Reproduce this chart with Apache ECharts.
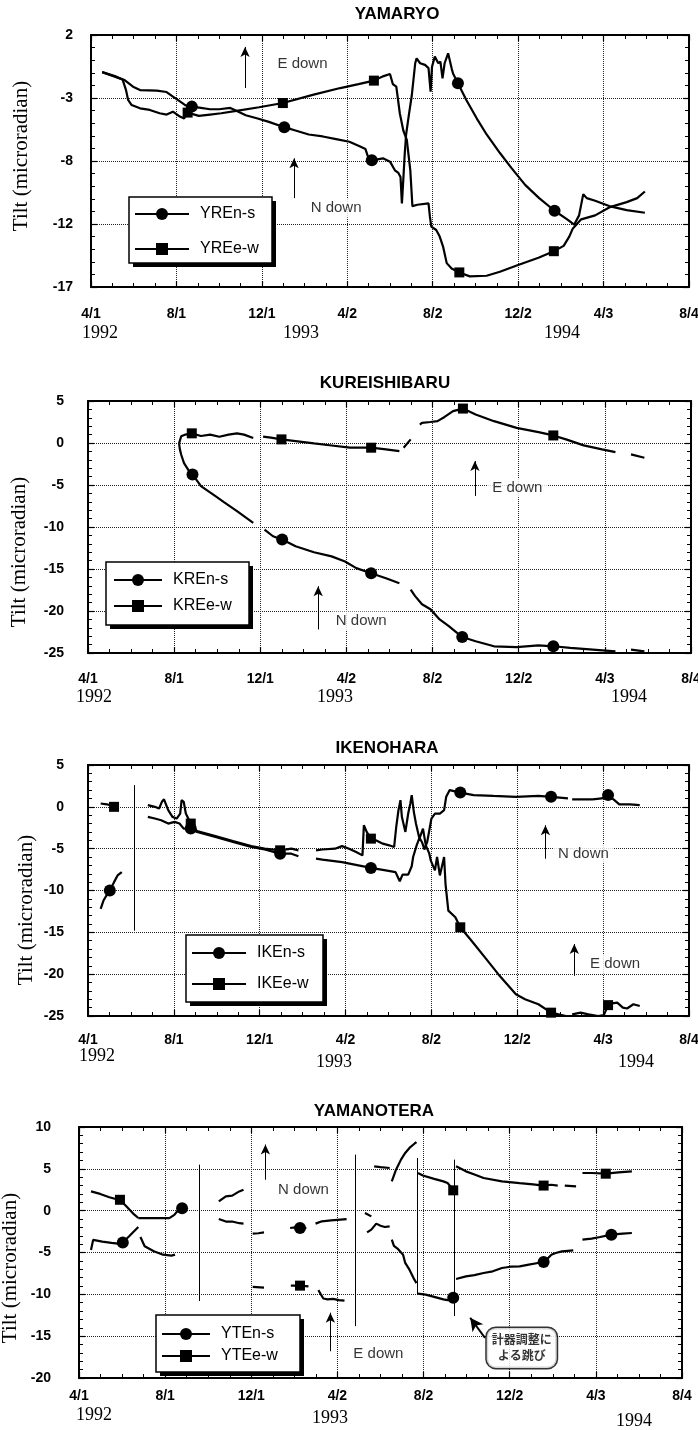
<!DOCTYPE html>
<html>
<head>
<meta charset="utf-8">
<title>Tilt records 1992-1994</title>
<script src="https://cdn.jsdelivr.net/npm/echarts@6/dist/echarts.min.js"></script>
<style>
  html, body { margin: 0; padding: 0; background: #fff; }
  #main { width: 698px; height: 1430px; }
</style>
</head>
<body>
<div id="main"></div>
<script>
// x is days since 4/1/1992, ticks every 122 days
const xTickLabels = ['4/1', '8/1', '12/1', '4/2', '8/2', '12/2', '4/3', '8/4'];
const yearLabels = ['1992', '1993', '1994'];
const yrTickLabels = ['-17', '-12', '-8', '-3', '2'];

// ---- YAMARYO ----
const yrNs = [[16,-0.8],[34,-1.14],[48,-1.4],[60,-1.9],[70,-2.15],[94,-2.2],[108,-2.3],[117,-2.65],[127,-3.0],[135,-3.3],[144,-3.4],[157,-3.5],[170,-3.6],[183,-3.6],[199,-3.5],[209,-3.75],[221,-4.05],[238,-4.3],[254,-4.55],[276,-4.95],[292,-5.2],[311,-5.5],[331,-5.65],[350,-5.85],[369,-6.05],[382,-6.35],[392,-6.6],[395,-7.1],[401,-7.45],[417,-7.3],[427,-7.55],[434,-8.2],[439,-8.4],[442,-8.7],[444,-10.7],[446,-8.9],[448,-7.0],[450,-5.5],[454,-4.0],[458,-2.6],[463,-0.13],[465,0.24],[470,-0.13],[477,-0.25],[482,-0.5],[485,-2.27],[487,-0.4],[491,0.37],[496,-0.13],[499,0],[502,-1.27],[505,-0.13],[510,0.62],[515,-0.5],[517,-0.9],[524,-1.64],[536,-2.9],[551,-4.3],[565,-5.5],[584,-6.9],[600,-8.0],[620,-9.3],[640,-10.3],[662,-11.25],[680,-11.9],[690,-12.3],[697,-11.6],[703,-10.0],[708,-10.3],[720,-10.5],[740,-10.9],[765,-11.2],[791,-11.4]];
const yrNsMarks = [144, 276, 401, 524, 662];
const yrEw = [[16,-0.8],[34,-1.1],[45,-1.35],[50,-2.15],[53,-2.9],[58,-3.28],[70,-3.53],[84,-3.65],[98,-3.9],[108,-4.0],[117,-3.78],[127,-4.15],[133,-4.3],[138,-3.85],[154,-4.1],[170,-4.0],[186,-3.9],[210,-3.7],[240,-3.45],[274,-3.13],[318,-2.5],[356,-2.0],[382,-1.7],[404,-1.44],[418,-1.1],[427,-0.94],[431,-1.7],[436,-1.9],[441,-3.9],[446,-5.2],[451,-5.9],[456,-8.2],[459,-10.9],[466,-10.8],[482,-10.7],[484,-11.7],[486,-12.45],[493,-12.7],[498,-13.2],[503,-14.0],[508,-15.2],[515,-15.6],[526,-15.9],[541,-16.2],[565,-16.15],[584,-15.85],[607,-15.4],[639,-14.8],[661,-14.3],[675,-13.9],[683,-13.2],[688,-12.6],[693,-12.3],[700,-11.9],[720,-11.6],[740,-11.0],[765,-10.6],[780,-10.3],[791,-9.8]];
const yrEwMarks = [138, 274, 404, 526, 661];
const yrArrows = [[220, -2.0, 1.1], [290, -10.3, -7.3]];
const yrNotes = [[302, -0.15, 'E down'], [350, -11.05, 'N down']];

// ---- KUREISHIBARU ----
const krNs = [[129,-0.05],[130,-0.7],[132,-1.4],[136,-2.4],[142,-3.2],[148,-3.74],[160,-5.13],[180,-6.3],[192,-7.0],[211,-8.1],[234,-9.5],[235,null],[250,-10.3],[262,-11.1],[275,-11.5],[294,-12.3],[320,-13.0],[345,-13.5],[364,-14.1],[380,-14.9],[401,-15.5],[422,-16.1],[441,-16.7],[442,null],[457,-17.45],[463,-18.2],[473,-19.2],[485,-19.8],[498,-21.0],[511,-21.8],[530,-23.1],[549,-23.6],[575,-24.2],[607,-24.3],[638,-24.1],[659,-24.2],[683,-24.4],[715,-24.6],[747,-24.8],[748,null],[769,-24.6],[788,-24.8]];
const krNsMarks = [148, 275, 401, 530, 659];
const krEw = [[129,-0.05],[132,0.8],[138,1.0],[147,1.15],[160,0.83],[173,1.0],[186,0.75],[199,1.0],[211,1.15],[221,1.0],[234,0.6],[235,null],[248,0.75],[259,0.63],[274,0.43],[294,0.23],[320,-0.05],[345,-0.3],[371,-0.56],[401,-0.56],[422,-0.76],[441,-0.96],[442,null],[447,-0.56],[457,0.43],[458,null],[470,2.2],[473,2.4],[485,2.5],[495,2.6],[505,3.1],[517,3.8],[531,4.1],[549,3.4],[575,2.6],[607,1.8],[638,1.3],[659,0.9],[677,0.43],[702,-0.28],[728,-0.76],[747,-1.08],[748,null],[769,-1.36],[788,-1.76]];
const krEwMarks = [147, 274, 401, 531, 659];
const krArrows = [[548, -6.3, -2.15], [326, -22.2, -17.05]];
const krNotes = [[608, -5.33, 'E down'], [387, -21.2, 'N down']];

// ---- IKENOHARA ----
const ikNs = [[18,-12.2],[22,-11.2],[27,-10.5],[31,-10.0],[37,-9.0],[42,-8.2],[48,-7.8],[49,null],[85,-1.2],[95,-1.4],[104,-1.6],[114,-2.0],[123,-1.8],[130,-2.0],[136,-2.6],[146,-2.6],[155,-3.0],[181,-3.6],[206,-4.2],[232,-4.8],[251,-5.1],[273,-5.6],[289,-5.6],[299,-5.9],[300,null],[324,-6.2],[333,-6.3],[361,-6.6],[402,-7.3],[423,-7.6],[437,-7.8],[443,-8.9],[447,-8.1],[455,-8.1],[460,-7.1],[462,-6.0],[467,-4.6],[471,-3.7],[475,-4.3],[478,-5.1],[482,-4.2],[485,-2.8],[488,-1.4],[493,-0.8],[500,-0.8],[506,-0.4],[509,1.2],[514,2.0],[529,1.7],[548,1.4],[576,1.3],[608,1.2],[640,1.3],[658,1.2],[682,1.0],[683,null],[688,0.9],[717,0.9],[730,1.0],[739,1.4],[748,0.8],[755,0.3],[770,0.3],[784,0.2]];
const ikNsMarks = [31, 146, 273, 402, 529, 658, 739];
const ikEw = [[18,0.4],[27,0.3],[37,0.0],[42,-0.1],[43,null],[85,0.2],[95,0.0],[101,-0.2],[105,0.6],[108,0.9],[114,-0.4],[120,-1.2],[126,-1.4],[131,-0.8],[133,0.8],[136,0.6],[139,-0.8],[146,-2.0],[155,-2.9],[181,-3.5],[206,-4.1],[232,-4.7],[251,-5.0],[273,-5.2],[289,-5.0],[299,-5.2],[300,null],[324,-5.2],[333,-5.1],[351,-5.0],[361,-4.7],[371,-5.0],[381,-5.4],[390,-5.8],[392,-2.2],[396,-3.0],[402,-3.8],[409,-4.0],[419,-4.4],[428,-4.6],[435,-4.8],[438,-2.4],[441,-0.5],[444,0.8],[446,-1.2],[451,-3.0],[455,-0.8],[458,0.4],[460,1.4],[463,-0.6],[466,-2.0],[471,-3.8],[476,-2.6],[480,-4.6],[485,-5.6],[487,-6.4],[493,-7.6],[496,-6.0],[500,-8.2],[506,-6.0],[508,-9.2],[512,-12.4],[522,-13.2],[529,-14.4],[545,-16.0],[564,-18.0],[583,-20.0],[608,-22.4],[621,-23.0],[640,-23.6],[658,-24.6],[679,-25.0],[682,null],[688,-24.8],[700,-24.6],[711,-24.8],[725,-25.0],[733,-24.9],[739,-23.7],[745,-23.5],[752,-23.4],[760,-24.0],[766,-24.1],[775,-23.6],[784,-23.8]];
const ikEwMarks = [37, 146, 273, 402, 529, 658, 739];
const ikSteps = [[66, 2.6, -14.8]];
const ikArrows = [[650, -6.2, -2.2], [691, -20.2, -16.4]];
const ikNotes = [[704, -5.6, 'N down'], [749, -18.8, 'E down']];

// ---- YAMANOTERA ----
const ytNs = [[17,-4.7],[20,-3.5],[33,-3.7],[46,-3.85],[55,-3.95],[62,-3.8],[71,-3.05],[78,-2.45],[84,-1.95],[85,null],[84,-0.88],[87,-0.9],[103,-0.9],[116,-0.9],[128,-0.9],[135,-0.5],[141,0.1],[146,0.3],[149,0.4],[150,null],[198,-1.0],[208,-1.3],[217,-1.3],[227,-1.5],[233,-1.55],[234,null],[246,-2.75],[254,-2.7],[262,-2.6],[263,null],[299,-2.07],[306,-2.0],[313,-2.07],[322,-2.07],[323,null],[335,-1.55],[344,-1.27],[357,-1.15],[379,-1.0],[380,null],[408,-2.6],[414,-2.27],[421,-1.55],[427,-1.8],[433,-1.95],[440,-1.87],[441,null],[443,-3.47],[446,-4.2],[452,-4.6],[459,-5.26],[462,-6.25],[468,-7.05],[475,-8.25],[478,-8.65],[479,null],[480,-9.92],[491,-10.04],[503,-10.3],[516,-10.6],[522,-10.7],[530,-10.4],[531,null],[534,-8.17],[548,-7.85],[560,-7.7],[573,-7.45],[586,-7.25],[599,-6.85],[611,-6.7],[624,-6.65],[637,-6.45],[650,-6.25],[658,-6.14],[662,-5.86],[669,-5.26],[675,-5.06],[684,-4.86],[700,-4.74],[701,null],[713,-3.47],[726,-3.35],[738,-3.15],[754,-2.87],[770,-2.75],[783,-2.67]];
const ytNsMarks = [62, 146, 313, 530, 658, 754];
const ytEw = [[17,2.3],[30,2.0],[43,1.6],[52,1.4],[58,1.3],[68,0.45],[78,-0.45],[84,-0.88],[85,null],[87,-3.15],[93,-4.26],[106,-4.86],[119,-5.26],[131,-5.38],[136,-5.26],[137,null],[198,1.1],[208,1.7],[217,1.8],[227,2.3],[233,2.5],[234,null],[246,-9.12],[262,-9.2],[263,null],[300,-8.96],[313,-8.96],[325,-9.04],[326,null],[339,-9.5],[346,-10.5],[352,-10.6],[360,-10.55],[368,-10.7],[376,-10.75],[377,null],[405,-0.28],[414,-0.68],[415,null],[418,5.3],[427,5.2],[440,5.1],[441,null],[443,3.5],[449,4.9],[456,6.1],[462,6.9],[468,7.5],[475,8.0],[478,8.2],[479,null],[480,4.5],[487,4.2],[503,3.8],[516,3.5],[522,3.3],[526,2.9],[530,2.43],[531,null],[534,5.3],[548,4.7],[561,4.3],[573,3.9],[599,3.5],[624,3.3],[643,3.15],[658,3.0],[669,3.1],[678,3.0],[679,null],[688,3.0],[704,2.9],[705,null],[713,4.5],[726,4.5],[746,4.42],[764,4.58],[783,4.7]];
const ytEwMarks = [58, 313, 530, 658, 746];
const ytSteps = [[171, 5.5, -10.8], [391, 6.7, -13.8], [479, 6.3, -10.0], [532, 6.1, -12.6]];
const ytArrows = [[264, 3.7, 7.9], [356, -16.8, -12.2]];
const ytNotes = [[318, 2.5, 'N down'], [424, -17.1, 'E down']];
const ytCallout = { at: [627, -16.4], from: [575, -15.2], to: [554, -12.8], text: '計器調整に\nよる跳び' };

// page layout, in pixels; box = legend frame [x, y, w, h]
const panels = [
  { title: 'YAMARYO', ns: ['YREn-s', yrNs, yrNsMarks], ew: ['YREe-w', yrEw, yrEwMarks],
    yMin: -17, yMax: 2, yStep: 4.75, yLabels: yrTickLabels, steps: [], arrows: yrArrows, notes: yrNotes,
    left: 91, right: 9, top: 35, height: 252, xMargin: 20, yMargin: 18,
    titlePos: [397, 14], namePos: [21, 156], yearPos: [[100, 333], [301, 333], [562, 333]],
    box: [129, 197, 143, 66], legend: { left: 134, top: 206, gap: 19, w: 54 } },
  { title: 'KUREISHIBARU', ns: ['KREn-s', krNs, krNsMarks], ew: ['KREe-w', krEw, krEwMarks],
    yMin: -25, yMax: 5, yStep: 5, steps: [], arrows: krArrows, notes: krNotes,
    left: 88, right: 7, top: 401, height: 252, xMargin: 19, yMargin: 24,
    titlePos: [385, 383], namePos: [19, 552], yearPos: [[94, 697], [335, 697], [629, 697]],
    box: [106, 562, 143, 63], legend: { left: 113, top: 572, gap: 10, w: 48 } },
  { title: 'IKENOHARA', ns: ['IKEn-s', ikNs, ikNsMarks], ew: ['IKEe-w', ikEw, ikEwMarks],
    yMin: -25, yMax: 5, yStep: 5, steps: ikSteps, arrows: ikArrows, notes: ikNotes,
    left: 88, right: 9, top: 765, height: 251, xMargin: 17, yMargin: 24,
    titlePos: [387, 748], namePos: [26, 910], yearPos: [[97, 1056], [334, 1062], [636, 1062]],
    box: [186, 935, 137, 67], legend: { left: 191, top: 945, gap: 15, w: 54 } },
  { title: 'YAMANOTERA', ns: ['YTEn-s', ytNs, ytNsMarks], ew: ['YTEe-w', ytEw, ytEwMarks],
    yMin: -20, yMax: 10, yStep: 5, steps: ytSteps, arrows: ytArrows, notes: ytNotes, callout: ytCallout,
    left: 79, right: 16, top: 1127, height: 251, xMargin: 11, yMargin: 28,
    titlePos: [374, 1111], namePos: [10, 1268], yearPos: [[94, 1415], [330, 1418], [634, 1421]],
    box: [156, 1315, 144, 57], legend: { left: 161, top: 1326, gap: 6, w: 48 } }
];

const sans = '"Liberation Sans", Arial, Helvetica, sans-serif';
const serif = '"Liberation Serif", "Times New Roman", serif';

const chart = echarts.init(document.getElementById('main'));
const option = {
  animation: false,
  backgroundColor: '#fff',
  textStyle: { fontFamily: sans, color: '#000' },
  grid: [], xAxis: [], yAxis: [], series: [], legend: [], graphic: []
};

function frameAxis(extra) {
  return Object.assign({
    type: 'value',
    axisLine: { show: true, onZero: false, lineStyle: { color: '#000', width: 2 } },
    axisTick: { show: true, inside: true, length: 6, lineStyle: { color: '#000', width: 1.2 } },
    splitLine: { show: false },
    axisLabel: { show: false }
  }, extra);
}

function lineSeries(p, i, [name, pts, marks], symbol, size) {
  const markSet = new Set(marks);
  return {
    type: 'line', name: name, xAxisIndex: 2 * i, yAxisIndex: 2 * i,
    data: pts.map(d => [d[0], d[1]]),
    symbol: symbol, showSymbol: true,
    symbolSize: v => (markSet.has(v[0]) ? size : 0),
    connectNulls: false, silent: true, z: 3,
    lineStyle: { color: '#000', width: 2.2 },
    itemStyle: { color: '#000' },
    emphasis: { disabled: true }
  };
}

panels.forEach((p, i) => {
  option.grid.push({ left: p.left, right: p.right, top: p.top, height: p.height, outerBoundsMode: 'none' });

  // bottom + top x axes
  option.xAxis.push(frameAxis({
    gridIndex: i, position: 'bottom', min: 0, max: 854, interval: 122,
    minorTick: { show: true, splitNumber: 4, length: 4, lineStyle: { color: '#000', width: 1 } },
    axisLabel: { show: true, margin: p.xMargin, color: '#000', fontFamily: sans, fontWeight: 'bold', fontSize: 14,
      formatter: v => xTickLabels[Math.round(v / 122)] },
    splitLine: { show: true, lineStyle: { type: 'dotted', color: '#222', width: 1 } }
  }));
  option.xAxis.push(frameAxis({
    gridIndex: i, position: 'top', min: 0, max: 854, interval: 122,
    minorTick: { show: true, splitNumber: 4, length: 4, lineStyle: { color: '#000', width: 1 } }
  }));

  // left + right y axes
  const yFmt = p.yLabels ? (v => p.yLabels[Math.round((v - p.yMin) / p.yStep)]) : (v => String(v));
  option.yAxis.push(frameAxis({
    gridIndex: i, position: 'left', min: p.yMin, max: p.yMax, interval: p.yStep,
    minorTick: { show: true, splitNumber: 5, length: 4, lineStyle: { color: '#000', width: 1 } },
    axisLabel: { show: true, margin: p.yMargin, color: '#000', fontFamily: sans, fontWeight: 'bold', fontSize: 14, formatter: yFmt },
    splitLine: { show: true, lineStyle: { type: 'dotted', color: '#222', width: 1 } }
  }));
  option.yAxis.push(frameAxis({
    gridIndex: i, position: 'right', min: p.yMin, max: p.yMax, interval: p.yStep,
    minorTick: { show: true, splitNumber: 5, length: 4, lineStyle: { color: '#000', width: 1 } }
  }));

  // the two components; annotation lines ride on the n-s series
  const ns = lineSeries(p, i, p.ns, 'circle', 12);
  const lines = [];
  p.steps.forEach(([x, y1, y2]) => lines.push([{ coord: [x, y1], symbol: 'none' }, { coord: [x, y2], symbol: 'none' }]));
  p.arrows.forEach(([x, y1, y2]) => lines.push([{ coord: [x, y1], symbol: 'none' }, { coord: [x, y2], symbol: 'arrow' }]));
  if (p.callout) {
    lines.push([{ coord: p.callout.from, symbol: 'none', lineStyle: { width: 2 } },
                { coord: p.callout.to, symbol: 'arrow', symbolSize: [10, 13] }]);
  }
  ns.markLine = {
    silent: true, animation: false, symbolSize: [7, 10], label: { show: false },
    lineStyle: { color: '#000', width: 1, type: 'solid' },
    emphasis: { disabled: true }, data: lines
  };
  option.series.push(ns);
  option.series.push(lineSeries(p, i, p.ew, 'rect', 10));

  // "E down" / "N down" notes
  option.series.push({
    type: 'scatter', xAxisIndex: 2 * i, yAxisIndex: 2 * i, symbolSize: 0, silent: true, z: 5,
    data: p.notes.map(([x, y, t]) => ({ value: [x, y], name: t })),
    label: { show: true, position: 'inside', formatter: '{b}', color: '#000', fontFamily: sans, fontSize: 15,
      backgroundColor: '#fff', padding: [2, 5] }
  });

  if (p.callout) {
    option.series.push({
      type: 'scatter', xAxisIndex: 2 * i, yAxisIndex: 2 * i, symbolSize: 0, silent: true, z: 6,
      data: [{ value: p.callout.at, name: p.callout.text }],
      label: { show: true, position: 'inside', formatter: '{b}', color: '#000',
        fontFamily: '"Noto Sans CJK JP", sans-serif', fontWeight: 'bold', fontSize: 12, lineHeight: 16, align: 'center',
        backgroundColor: '#fff', borderColor: '#000', borderWidth: 1.5, borderRadius: 9, padding: [4, 5] }
    });
  }

  // legend frame with a hard drop shadow, legend items on top
  const [bx, by, bw, bh] = p.box;
  option.graphic.push({ type: 'rect', x: bx + 4, y: by + 4, z: 10, silent: true,
    shape: { x: 0, y: 0, width: bw, height: bh }, style: { fill: '#000' } });
  option.graphic.push({ type: 'rect', x: bx, y: by, z: 11, silent: true,
    shape: { x: 0, y: 0, width: bw, height: bh }, style: { fill: '#fff', stroke: '#000', lineWidth: 1.5 } });
  option.legend.push({
    data: [p.ns[0], p.ew[0]], orient: 'vertical', left: p.legend.left, top: p.legend.top, z: 20,
    itemWidth: p.legend.w, itemHeight: 15, itemGap: p.legend.gap, padding: 0, selectedMode: false,
    textStyle: { fontFamily: sans, fontSize: 16, color: '#000', padding: [0, 0, 0, 6] }
  });

  // titles, axis name, year labels
  option.graphic.push({
    type: 'text', x: p.titlePos[0], y: p.titlePos[1], silent: true,
    style: { text: p.title, font: 'bold 17px ' + sans, fill: '#000', align: 'center', verticalAlign: 'middle',
      textAlign: 'center', textVerticalAlign: 'middle' }
  });
  option.graphic.push({
    type: 'text', x: p.namePos[0], y: p.namePos[1], rotation: Math.PI / 2, silent: true,
    style: { text: 'Tilt (microradian)', font: '21px ' + serif, fill: '#000', align: 'center', verticalAlign: 'middle',
      textAlign: 'center', textVerticalAlign: 'middle' }
  });
  p.yearPos.forEach((pos, k) => {
    option.graphic.push({
      type: 'text', x: pos[0], y: pos[1], silent: true,
      style: { text: yearLabels[k], font: '18px ' + serif, fill: '#000', align: 'center', verticalAlign: 'middle',
        textAlign: 'center', textVerticalAlign: 'middle' }
    });
  });
});

chart.setOption(option);
</script>
</body>
</html>
